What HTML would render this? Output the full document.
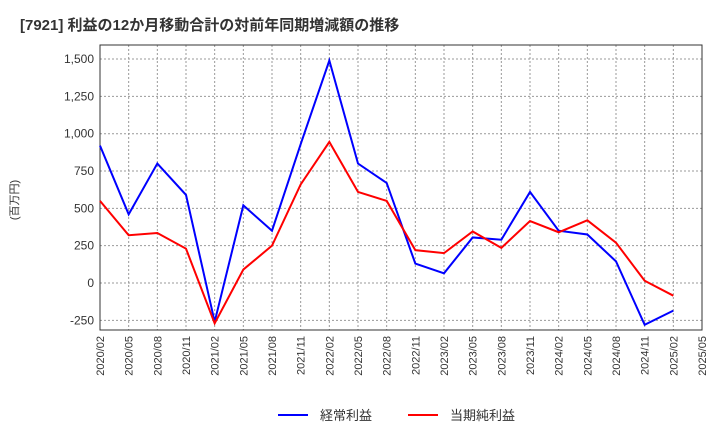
<!DOCTYPE html>
<html><head><meta charset="utf-8"><style>
body{margin:0;background:#fff;font-family:"Liberation Sans","Noto Sans CJK JP",sans-serif;}
</style></head><body>
<svg id="c" width="720" height="440" xmlns="http://www.w3.org/2000/svg">
<text x="20" y="30" font-size="15" font-weight="bold" fill="#333">[7921]  利益の12か月移動合計の対前年同期増減額の推移</text>
<text transform="translate(18,200) rotate(-90)" font-size="11" fill="#333" text-anchor="middle">(百万円)</text>
<g id="grid"></g><g id="axes"></g><g id="series"></g>
<g>
<line x1="278" y1="415" x2="308" y2="415" stroke="#0000ff" stroke-width="2"/>
<text x="320" y="420" font-size="13" fill="#333">経常利益</text>
<line x1="408" y1="415" x2="438" y2="415" stroke="#ff0000" stroke-width="2"/>
<text x="450" y="420" font-size="13" fill="#333">当期純利益</text>
</g>
</svg>
<script>
const categories=["2020/02","2020/05","2020/08","2020/11","2021/02","2021/05","2021/08","2021/11","2022/02","2022/05","2022/08","2022/11","2023/02","2023/05","2023/08","2023/11","2024/02","2024/05","2024/08","2024/11","2025/02","2025/05"];
const ordinaryProfit=[920,460,800,590,-260,520,350,930,1490,800,670,130,65,305,290,610,350,325,145,-280,-185];
const netProfit=[550,320,335,230,-270,90,250,660,945,610,550,220,200,345,235,415,340,420,270,15,-85];
const yTicks=[-250,0,250,500,750,1000,1250,1500];
const NS="http://www.w3.org/2000/svg";
const L=100,R=702,T=45,B=330;
const x=i=>L+i*(R-L)/(categories.length-1);
const y=v=>283-v*0.1493;
function mk(tag,attrs,parent){const e=document.createElementNS(NS,tag);for(const k in attrs)e.setAttribute(k,attrs[k]);parent.appendChild(e);return e;}
const grid=document.getElementById('grid'),axes=document.getElementById('axes'),ser=document.getElementById('series');
mk('rect',{x:L,y:T,width:R-L,height:B-T,fill:'none',stroke:'#333'},axes);
yTicks.forEach(v=>{
 const g=mk('line',{x1:L,x2:R,y1:y(v),y2:y(v),stroke:'#999','stroke-dasharray':'2,2'},grid);
 
 
 const t=mk('text',{x:L-6,y:y(v)+4,'font-size':12,'text-anchor':'end',fill:'#333'},axes);
 t.textContent=v.toLocaleString('en-US');
 
 
});
categories.forEach((c,i)=>{
 const g=mk('line',{x1:x(i),x2:x(i),y1:T,y2:B,stroke:'#999','stroke-dasharray':'2,2'},grid);
 
 
 const t=mk('text',{transform:`translate(${x(i)+4},${B+6}) rotate(-90)`,'font-size':11,'text-anchor':'end',fill:'#333'},axes);
 t.textContent=c;
 
 
});
function line(d,col,name){
 const p=mk('polyline',{points:d.map((v,i)=>x(i)+','+y(v)).join(' '),fill:'none',stroke:col,'stroke-width':2},ser);
 
 
}
line(ordinaryProfit,'#0000ff','ordinary-profit-line');
line(netProfit,'#ff0000','net-profit-line');
</script>
</body></html>
